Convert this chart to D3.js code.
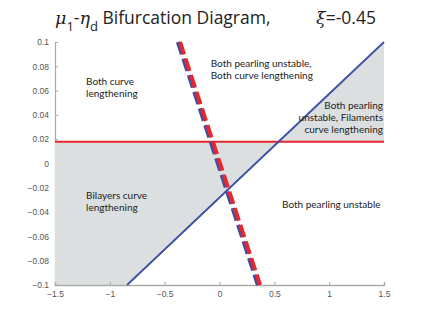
<!DOCTYPE html>
<html>
<head>
<meta charset="utf-8">
<script src="https://cdn.jsdelivr.net/npm/d3@7"></script>
<style>
  body { margin: 0; background: #fff; }
  svg { display: block; font-family: Lato, "Open Sans", sans-serif; }
</style>
</head>
<body>
<svg id="chart" width="429" height="320"></svg>
<script>
// values
let xTicks = [-1.5, -1, -0.5, 0, 0.5, 1, 1.5]
let yTicks = [-0.1, -0.08, -0.06, -0.04, -0.02, 0, 0.02, 0.04, 0.06, 0.08, 0.1]
let redLevel = 0.018
let blueLine = [[-0.843, -0.1], [1.5, 0.1]]
let dashBlue = [[-0.38, 0.1], [0.35, -0.1]]
let dashRed = [[-0.36, 0.1], [0.37, -0.1]]
let xi = "-0.45"

let labels = [
  { lines: ["Both curve", "lengthening"], x: -1.217, y: 0.0646, anchor: "start" },
  { lines: ["Both pearling unstable,", "Both curve lengthening"], x: -0.08, y: 0.0797, anchor: "start" },
  { lines: ["Both pearling", "unstable, Filaments", "curve lengthening"], x: 1.491, y: 0.0449, anchor: "end" },
  { lines: ["Bilayers curve", "lengthening"], x: -1.217, y: -0.0292, anchor: "start" },
  { lines: ["Both pearling unstable"], x: 0.57, y: -0.0366, anchor: "start" }
]

let svg = d3.select("#chart")
let x = d3.scaleLinear().domain([-1.5, 1.5]).range([55, 384])
let y = d3.scaleLinear().domain([-0.1, 0.1]).range([285, 42])

let blue = "#3c4fa3"
let red = "#e8262d"
let grey = "#dcdfe0"

// y axis first, grey fill goes over it
let yAxis = d3.axisLeft(y).tickValues(yTicks).tickSize(-3).tickPadding(6)
  .tickFormat(d => d3.format("~g")(+d.toFixed(2)))
let yG = svg.append("g").attr("transform", "translate(55,0)").call(yAxis)
yG.select(".domain").attr("stroke", "#aaa").attr("stroke-width", 1.2)
yG.selectAll(".tick line").attr("stroke", "#aaa")
yG.selectAll("text").attr("fill", "#555").style("font-size", "8.5px")

// where the blue line meets the red level
let slope = (blueLine[1][1] - blueLine[0][1]) / (blueLine[1][0] - blueLine[0][0])
let xCross = blueLine[0][0] + (redLevel - blueLine[0][1]) / slope

let polyLeft = [[-1.5, redLevel], [xCross, redLevel], blueLine[0], [-1.5, -0.1]]
let polyRight = [[xCross, redLevel], blueLine[1], [1.5, redLevel]]
let area = d3.line().x(d => x(d[0])).y(d => y(d[1]))

svg.selectAll("path.fill")
  .data([polyLeft, polyRight])
  .enter()
  .append("path")
  .attr("class", "fill")
  .attr("d", d => area(d) + "Z")
  .attr("fill", grey)

// x axis
let xAxis = d3.axisBottom(x).tickValues(xTicks).tickSize(-3).tickPadding(6)
  .tickFormat(d => d3.format("~g")(d))
let xG = svg.append("g").attr("transform", "translate(0,285)").call(xAxis)
xG.select(".domain").attr("stroke", "#aaa").attr("stroke-width", 1.5)
xG.selectAll(".tick line").attr("stroke", "#aaa")
xG.selectAll("text").attr("fill", "#555").style("font-size", "8.5px")

// lines
svg.append("path")
  .attr("d", area([[-1.5, redLevel], [1.5, redLevel]]))
  .attr("stroke", red).attr("stroke-width", 2).attr("fill", "none")

svg.append("path")
  .attr("d", area(blueLine))
  .attr("stroke", blue).attr("stroke-width", 1.8).attr("fill", "none")

svg.append("path")
  .attr("d", area(dashBlue))
  .attr("stroke", blue).attr("stroke-width", 4).attr("fill", "none")
  .attr("stroke-dasharray", "13,4.5")

svg.append("path")
  .attr("d", area(dashRed))
  .attr("stroke", red).attr("stroke-width", 4).attr("fill", "none")
  .attr("stroke-dasharray", "13,4.5")

// region labels
let lab = svg.selectAll("text.lab")
  .data(labels)
  .enter()
  .append("text")
  .attr("class", "lab")
  .attr("text-anchor", d => d.anchor)
  .attr("fill", "#222")
  .style("font-size", "10px")

lab.selectAll("tspan")
  .data(d => d.lines.map(t => ({ t: t, x: d.x, y: d.y })))
  .enter()
  .append("tspan")
  .attr("x", d => x(d.x))
  .attr("y", (d, i) => y(d.y) + i * 12)
  .text(d => d.t)

// title
let title = svg.append("text")
  .attr("x", 55).attr("y", 24)
  .attr("fill", "#222")
  .style("font-family", "'Open Sans', sans-serif")
  .style("font-size", "17.5px")
title.append("tspan").text("μ").style("font-style", "italic").style("font-family", "DejaVu Serif")
title.append("tspan").text("1").attr("dy", 7).style("font-size", "13px")
title.append("tspan").text("-").attr("dy", -7)
title.append("tspan").text("η").style("font-style", "italic").style("font-family", "DejaVu Serif")
title.append("tspan").text("d").attr("dy", 7).style("font-size", "13px")
title.append("tspan").text(" Bifurcation Diagram,").attr("dy", -7)

let xiT = svg.append("text")
  .attr("x", 316).attr("y", 24)
  .attr("fill", "#222")
  .style("font-family", "'Open Sans', sans-serif")
  .style("font-size", "17.5px")
xiT.append("tspan").text("ξ").style("font-style", "italic").style("font-family", "DejaVu Serif")
xiT.append("tspan").text("=" + xi)
</script>
</body>
</html>
